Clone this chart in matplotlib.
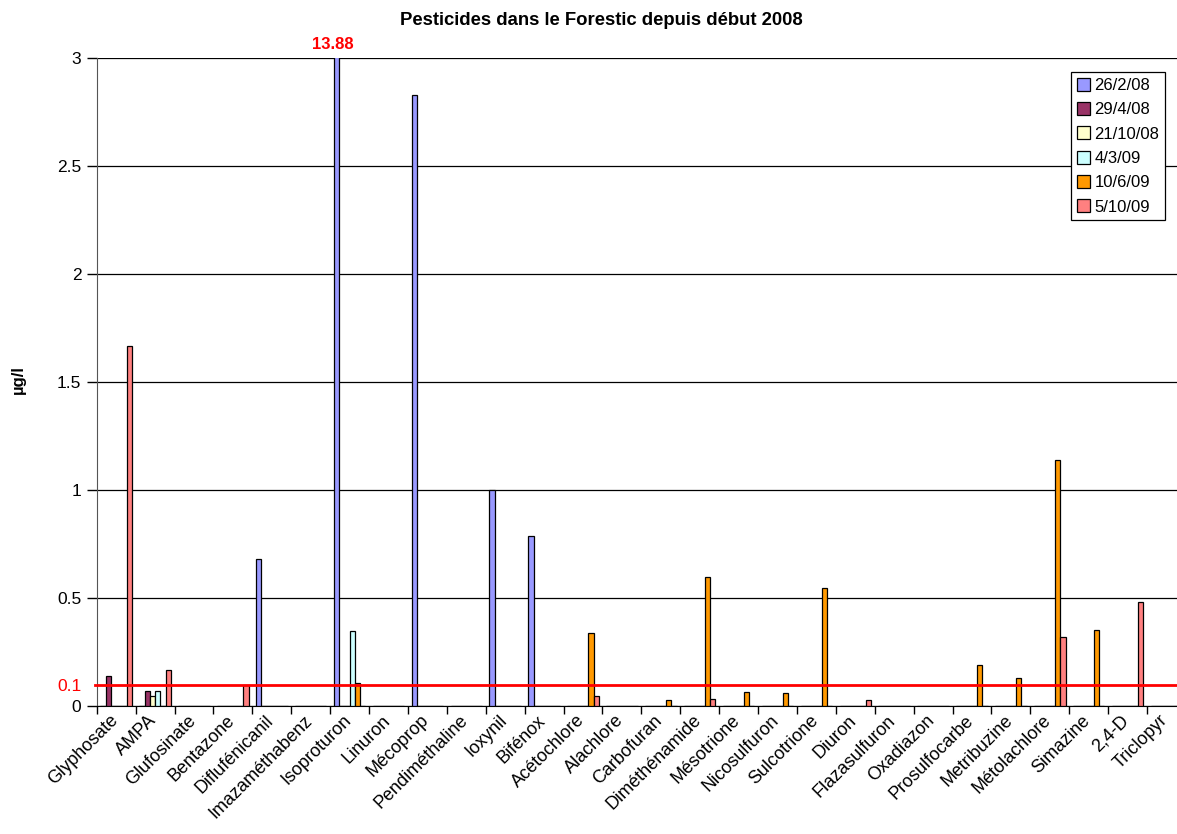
import numpy as np
import matplotlib.pyplot as plt
from matplotlib.transforms import ScaledTranslation

plt.rcParams['font.family'] = ['Liberation Sans', 'DejaVu Sans']

categories = ['Glyphosate', 'AMPA', 'Glufosinate', 'Bentazone', 'Diflufénicanil',
              'Imazaméthabenz', 'Isoproturon', 'Linuron', 'Mécoprop', 'Pendiméthaline',
              'Ioxynil', 'Bifénox', 'Acétochlore', 'Alachlore', 'Carbofuran',
              'Diméthénamide', 'Mésotrione', 'Nicosulfuron', 'Sulcotrione', 'Diuron',
              'Flazasulfuron', 'Oxadiazon', 'Prosulfocarbe', 'Metribuzine',
              'Métolachlore', 'Simazine', '2,4-D', 'Triclopyr']

dates = ['26/2/08', '29/4/08', '21/10/08', '4/3/09', '10/6/09', '5/10/09']
colors = ['#9999FF', '#993366', '#FFFFCC', '#CCFFFF', '#FF9900', '#FF8080']

# one value per category, 0 = not detected
s_260208 = [0, 0, 0, 0, 0.68, 0, 13.88, 0, 2.83, 0, 1.0, 0.79, 0, 0, 0,
            0, 0, 0, 0, 0, 0, 0, 0, 0, 0, 0, 0, 0]
s_290408 = [0.14, 0.07, 0, 0, 0, 0, 0, 0, 0, 0, 0, 0, 0, 0, 0,
            0, 0, 0, 0, 0, 0, 0, 0, 0, 0, 0, 0, 0]
s_211008 = [0, 0.05, 0, 0, 0, 0, 0, 0, 0, 0, 0, 0, 0, 0, 0,
            0, 0, 0, 0, 0, 0, 0, 0, 0, 0, 0, 0, 0]
s_040309 = [0, 0.07, 0, 0, 0, 0, 0.35, 0, 0, 0, 0, 0, 0, 0, 0,
            0, 0, 0, 0, 0, 0, 0, 0, 0, 0, 0, 0, 0]
s_100609 = [0, 0, 0, 0, 0, 0, 0.11, 0, 0, 0, 0, 0, 0.34, 0, 0.03,
            0.6, 0.065, 0.06, 0.55, 0, 0, 0, 0.19, 0.13, 1.14, 0.355, 0, 0]
s_051009 = [1.67, 0.17, 0, 0.1, 0, 0, 0, 0, 0, 0, 0, 0, 0.05, 0, 0,
            0.035, 0, 0, 0, 0.028, 0, 0, 0, 0, 0.32, 0, 0.485, 0]
series = [s_260208, s_290408, s_211008, s_040309, s_100609, s_051009]

fig = plt.figure(figsize=(11.77, 8.34), dpi=100)
ax = fig.add_axes([0.0822, 0.1531, 0.9254, 0.777])

n = len(categories)
x = np.arange(n)
w = 0.135
for k, (vals, d, c) in enumerate(zip(series, dates, colors)):
    ax.bar(x + 0.5 + (k - 2.5) * w, vals, width=w, color=c, edgecolor='black',
           linewidth=0.9, label=d, zorder=3)

ax.set_xlim(0, n)
ax.set_ylim(0, 3)

# category boundaries get the tick marks, labels sit at centres
ax.set_xticks(np.arange(n + 1))
ax.set_xticklabels([])
ax.set_xticks(x + 0.5, minor=True)
ax.set_xticklabels(categories, minor=True, rotation=45, ha='right',
                   rotation_mode='anchor', fontsize=13)
ax.tick_params(axis='x', which='major', length=6, width=1, direction='out')
ax.tick_params(axis='x', which='minor', length=0, pad=4)
shift = ScaledTranslation(-0.07, 0, fig.dpi_scale_trans)
for lab in ax.get_xticklabels(minor=True):
    lab.set_transform(lab.get_transform() + shift)

yt = [0, 0.1, 0.5, 1, 1.5, 2, 2.5, 3]
ax.set_yticks(yt)
ax.set_yticklabels(['0', '0.1', '0.5', '1', '1.5', '2', '2.5', '3'], fontsize=12.5)
ax.tick_params(axis='y', length=7, width=1, direction='out', pad=4)
ax.yaxis.grid(True, color='black', linewidth=0.9, zorder=0)
ax.set_axisbelow(True)
t01 = ax.yaxis.get_major_ticks()[1]
t01.label1.set_color('red')
t01.tick1line.set_visible(False)
t01.gridline.set_visible(False)

ax.axhline(0.1, color='red', linewidth=2, zorder=4, xmin=-0.002, clip_on=False)

for side in ['top', 'right']:
    ax.spines[side].set_visible(False)
ax.spines['left'].set_color('#555555')
ax.spines['bottom'].set_color('black')

ax.text(6 + 0.5 - 2.5 * w - 0.1, 3.03, '13.88', color='red', fontsize=12,
        fontweight='bold', ha='center', va='bottom')

fig.text(0.016, 0.545, 'µg/l', fontsize=12, fontweight='bold', rotation=90,
         ha='center', va='center')
fig.suptitle('Pesticides dans le Forestic depuis début 2008', fontsize=13.3,
             fontweight='bold', x=0.511, y=0.986)

leg = ax.legend(loc='upper right', bbox_to_anchor=(0.9898, 0.9137),
                bbox_transform=fig.transFigure, fontsize=12, fancybox=False,
                framealpha=1, edgecolor='black', handlelength=0.8,
                handleheight=0.8, handletextpad=0.25, labelspacing=0.55,
                borderpad=0.35, borderaxespad=0)
leg.get_frame().set_linewidth(0.9)

fig.savefig('out.png', dpi=100)
